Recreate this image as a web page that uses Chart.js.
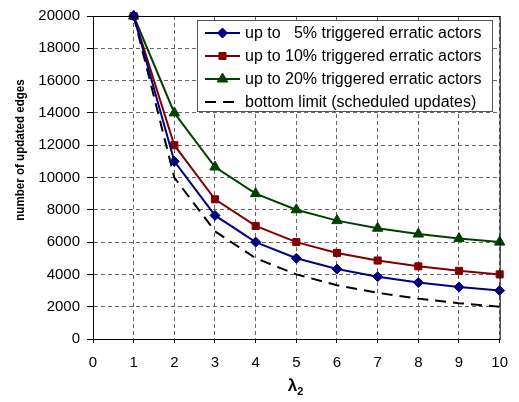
<!DOCTYPE html>
<html>
<head>
<meta charset="utf-8">
<script src="https://cdn.jsdelivr.net/npm/chart.js@4.4.1/dist/chart.umd.min.js"></script>
<style>
  html, body { margin: 0; padding: 0; background: #fff; }
  #wrap { width: 519px; height: 402px; }
</style>
</head>
<body>
<div id="wrap"><canvas id="grafico" width="519" height="402"></canvas></div>
<script>
// dados
const lambdas   = [1, 2, 3, 4, 5, 6, 7, 8, 9, 10];
const erratic5  = [20000, 11000, 7650, 6000, 5000, 4330, 3860, 3500, 3220, 3000];
const erratic10 = [20000, 12000, 8650, 7000, 6000, 5330, 4860, 4500, 4220, 4000];
const erratic20 = [20000, 14000, 10650, 9000, 8000, 7330, 6860, 6500, 6220, 6000];
const bottomLim = [20000, 10000, 6670, 5000, 4000, 3330, 2860, 2500, 2220, 2000];
const yTicks    = [0, 2000, 4000, 6000, 8000, 10000, 12000, 14000, 16000, 18000, 20000];
const xTicks    = [0, 1, 2, 3, 4, 5, 6, 7, 8, 9, 10];

const labels = [
  'up to   5% triggered erratic actors',
  'up to 10% triggered erratic actors',
  'up to 20% triggered erratic actors',
  'bottom limit (scheduled updates)',
];

const FONTE = "'Liberation Sans', Arial, sans-serif";
const pts = arr => arr.map((v, i) => ({ x: lambdas[i], y: v }));

function serie(label, arr, cor, marker, raio) {
  return {
    label,
    data: pts(arr),
    borderColor: cor,
    backgroundColor: cor,
    borderWidth: 2,
    pointStyle: marker,
    pointRadius: raio,
    pointBorderWidth: 1,
    pointBorderColor: cor,
    pointBackgroundColor: cor,
    tension: 0,
    clip: false,
  };
}

// moldura do gráfico + títulos + legenda desenhados à mão
const extras = {
  id: 'extras',
  afterDraw(chart) {
    const { ctx, chartArea: a } = chart;
    ctx.save();
    ctx.strokeStyle = '#000';
    ctx.lineWidth = 1;
    ctx.setLineDash([]);
    ctx.strokeRect(a.left + 0.5, a.top + 0.5, a.right - a.left, a.bottom - a.top);

    // título do eixo y (um pouco comprimido, como no original)
    ctx.fillStyle = '#000';
    ctx.font = `bold 13px ${FONTE}`;
    ctx.textAlign = 'center';
    ctx.textBaseline = 'middle';
    ctx.translate(20, 150);
    ctx.rotate(-Math.PI / 2);
    ctx.scale(0.89, 1);
    ctx.fillText('number of updated edges', 0, 0);
    ctx.restore();

    // título do eixo x: lambda com subscrito 2
    ctx.save();
    ctx.fillStyle = '#000';
    ctx.textBaseline = 'alphabetic';
    ctx.font = `bold 17px ${FONTE}`;
    const cx = (a.left + a.right) / 2;
    ctx.textAlign = 'right';
    ctx.fillText('λ', cx + 1, 391);
    ctx.font = `bold 11px ${FONTE}`;
    ctx.textAlign = 'left';
    ctx.fillText('2', cx + 1, 395);
    ctx.restore();

    // legenda
    ctx.save();
    const lx = 197, ly = 20, lw = 295, lh = 91;
    ctx.fillStyle = '#fff';
    ctx.fillRect(lx, ly, lw, lh);
    ctx.strokeStyle = '#555';
    ctx.lineWidth = 1;
    ctx.strokeRect(lx + 0.5, ly + 0.5, lw, lh);
    ctx.font = `16px ${FONTE}`;
    ctx.textBaseline = 'middle';
    ctx.textAlign = 'left';
    chart.data.datasets.forEach((ds, i) => {
      const y = 33 + i * 23;
      ctx.strokeStyle = ds.borderColor;
      ctx.lineWidth = 2;
      ctx.setLineDash(ds.borderDash || []);
      ctx.beginPath();
      ctx.moveTo(205, y);
      ctx.lineTo(240, y);
      ctx.stroke();
      ctx.setLineDash([]);
      if (ds.pointRadius > 0) {
        ctx.fillStyle = ds.borderColor;
        ctx.lineWidth = 1;
        Chart.helpers.drawPoint(ctx, {
          pointStyle: ds.pointStyle, radius: ds.pointRadius, borderWidth: 1,
        }, 222.5, y);
      }
      ctx.fillStyle = '#000';
      ctx.fillText(ds.label, 245, y + 1);
    });
    ctx.restore();
  },
};

new Chart(document.getElementById('grafico'), {
  type: 'line',
  data: {
    datasets: [
      serie(labels[0], erratic5, '#000080', 'rectRot', 5),
      serie(labels[1], erratic10, '#800000', 'rect', 5),
      serie(labels[2], erratic20, '#004000', 'triangle', 6),
      Object.assign(serie(labels[3], bottomLim, '#000', 'circle', 0), { borderDash: [11, 7] }),
    ],
  },
  options: {
    responsive: false,
    animation: false,
    layout: { padding: { top: 9, right: 16, left: 0, bottom: 0 } },
    plugins: {
      legend: { display: false },
      tooltip: { enabled: false },
    },
    scales: {
      x: {
        type: 'linear',
        min: 0, max: 10,
        afterBuildTicks: s => { s.ticks = xTicks.map(v => ({ value: v })); },
        afterFit: s => { s.height = 63; },
        ticks: { color: '#000', font: { family: FONTE, size: 15 }, padding: 11, maxRotation: 0,
                 callback: v => String(v) },
        grid: { color: '#666', tickLength: 4, tickColor: '#000' },
        border: { display: true, color: '#000', dash: [4, 3] },
      },
      y: {
        min: 0, max: 20000,
        afterBuildTicks: s => { s.ticks = yTicks.map(v => ({ value: v })); },
        afterFit: s => { s.width = 93; },
        ticks: { color: '#000', font: { family: FONTE, size: 15 }, padding: 7,
                 callback: v => String(v) },
        grid: { color: '#666', tickLength: 6, tickColor: '#000' },
        border: { display: true, color: '#000', dash: [4, 3] },
      },
    },
  },
  plugins: [extras],
});
</script>
</body>
</html>
